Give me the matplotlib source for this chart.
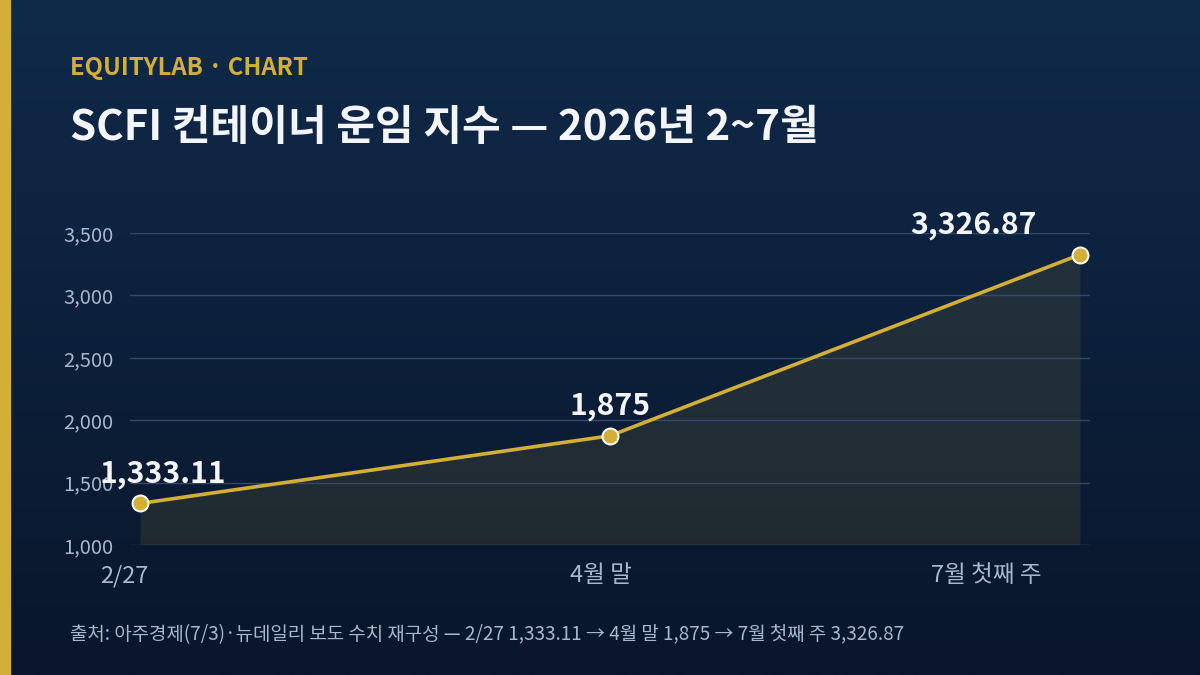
import numpy as np
import matplotlib
matplotlib.use("Agg")
import matplotlib.pyplot as plt
import matplotlib.transforms as mtransforms
from matplotlib.patches import Rectangle

plt.rcParams['font.family'] = ['Noto Sans CJK KR', 'DejaVu Sans']

# data
labels = ["2/27", "4월 말", "7월 첫째 주"]
values = [1333.11, 1875, 3326.87]
value_text = ["1,333.11", "1,875", "3,326.87"]
yticks = [1000, 1500, 2000, 2500, 3000, 3500]

GOLD = "#d4af37"
TXT = "#a9b6cb"
W, H = 1200, 675

fig = plt.figure(figsize=(12, 6.75), dpi=100)

# background gradient
bg = fig.add_axes([0, 0, 1, 1], zorder=-10)
top = np.array([16, 42, 74]) / 255
bot = np.array([9, 22, 43]) / 255
t = np.linspace(0, 1, 256)[:, None]
grad = top[None, :] * (1 - t) + bot[None, :] * t
bg.imshow(grad[:, None, :], aspect="auto", extent=[0, 1, 0, 1])
bg.axis("off")
fig.patches.append(Rectangle((0, 0), 10 / W, 1, transform=fig.transFigure,
                             color=GOLD, zorder=5))

fig.text(70 / W, 1 - 68 / H, "EQUITYLAB · CHART", color=GOLD, fontsize=17.2,
         fontweight="bold", va="center", ha="left")
fig.text(70 / W, 1 - 128 / H, "SCFI 컨테이너 운임 지수 — 2026년 2~7월", color="#f3f5fa",
         fontsize=30.3, fontweight="bold", va="center", ha="left")
fig.text(70 / W, 1 - 635 / H,
         "출처: 아주경제(7/3)·뉴데일리 보도 수치 재구성 — 2/27 1,333.11 → 4월 말 1,875 → 7월 첫째 주 3,326.87",
         color=TXT, fontsize=13.65, va="center", ha="left")

ax = fig.add_axes([130 / W, 1 - 545 / H, 960 / W, 312 / H])
ax.set_facecolor("none")
x = np.arange(len(values))
ax.set_xlim(-10 / 470, 2 + 10 / 470)
ax.set_ylim(1000, 3500)

ax.fill_between(x, values, 1000, color=GOLD, alpha=0.11, linewidth=0, zorder=1)
ax.plot(x, values, color=GOLD, lw=2.6, zorder=3, clip_on=False)
ax.plot(x, values, "o", ms=11.5, mfc=GOLD, mec="white", mew=1.4, zorder=4, clip_on=False)

ax.set_yticks(yticks)
ax.set_yticklabels([f"{v:,}" for v in yticks])
ax.grid(axis="y", color="#34496a", lw=1, zorder=2)
ax.set_axisbelow(False)
for s in ax.spines.values():
    s.set_visible(False)
ax.tick_params(axis="y", length=0, pad=12, labelsize=14.5, labelcolor=TXT)
ax.tick_params(axis="x", length=0, pad=14, labelsize=17, labelcolor=TXT)
ax.set_xticks(x)
ax.set_xticklabels(labels)

# shift x tick labels like the reference
shifts = [-16, -9, -94]
for lab, dx in zip(ax.get_xticklabels(), shifts):
    lab.set_transform(lab.get_transform() +
                      mtransforms.ScaledTranslation(dx / 100, 0, fig.dpi_scale_trans))

# value labels
offs = [23, 0, -107]
for xi, v, s, dx in zip(x, values, value_text, offs):
    ax.annotate(s, (xi, v), xytext=(dx * 0.72, 21 * 0.72), textcoords="offset points",
                ha="center", va="baseline", color="#f3f5fa", fontsize=21.7,
                fontweight="bold", zorder=6, annotation_clip=False)

fig.savefig("out.png", dpi=100)
